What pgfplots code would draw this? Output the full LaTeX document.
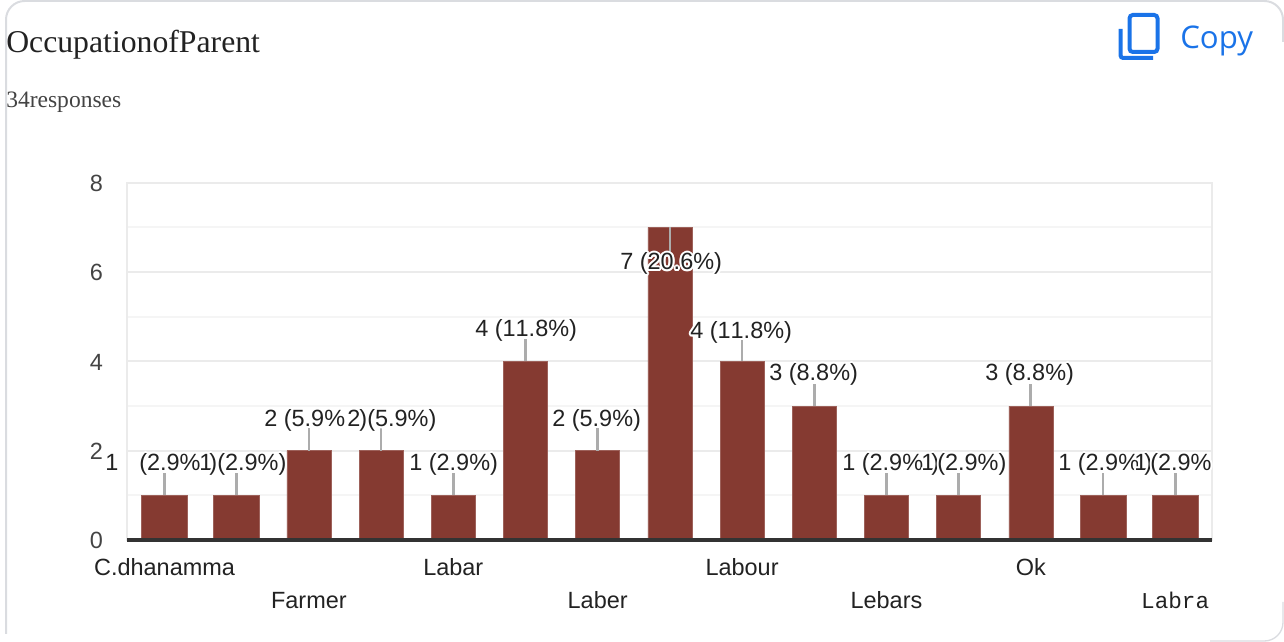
\documentclass[border=0pt]{standalone}
\usepackage{fontspec}
\usepackage{pgfplots}
\pgfplotsset{compat=1.18}
\setmainfont{Liberation Sans}
\newfontfamily\serifttl{Liberation Serif}
\newfontfamily\monolbl{Liberation Mono}
\newfontfamily\copyfont{Open Sans}
\definecolor{barcol}{HTML}{853A31}
\definecolor{gridmaj}{HTML}{EBEBEB}
\definecolor{gridmin}{HTML}{F5F5F5}
\definecolor{txt}{HTML}{222222}
\definecolor{ticktxt}{HTML}{444444}
\definecolor{blue}{HTML}{1A73E8}
\definecolor{card}{HTML}{DADCE0}
% second row of the staggered x labels
\newcommand\dn[1]{\raisebox{-25pt}{#1}}
% white halo round a label, as the chart draws it
\newcommand\halo[1]{\leavevmode\rlap{\color{white}%
  \foreach \a in {0,30,...,330}{\rlap{\hspace{\fpeval{1.5*cosd(\a)}pt}\raisebox{\fpeval{1.5*sind(\a)}pt}{#1}}}}#1}
% label fragment: left edge and vertical centre in reference pixels
\newcommand\lbl[3]{\node[anchor=base west,inner sep=0pt,text=txt,font=\fontsize{17.6}{20}\selectfont] at (#1,{642-#2-9}) {\halo{#3}};}
\begin{document}
\begin{tikzpicture}[x=0.75pt,y=0.75pt]
\path[use as bounding box] (0,0) rectangle (1284,642);
% card border
\draw[card,line width=1.5pt,rounded corners=14pt] (6,8) -- (6,641) -- (1283,641) -- (1283,600);
\draw[card,line width=1pt,rounded corners=14pt] (1210,1) -- (1283,1) -- (1283,40);
% header
\node[anchor=base west,inner sep=0pt,text=txt,font=\fontsize{23.8}{26}\serifttl] at (6,589) {OccupationofParent};
\node[anchor=base west,inner sep=0pt,text=txt!85,font=\fontsize{17.65}{20}\serifttl] at (6,534) {34responses};
\node[anchor=base west,inner sep=0pt,text=blue,font=\fontsize{23.4}{28}\copyfont] at (1180,593) {Copy};
\draw[blue,line width=3pt,rounded corners=2.5pt] (1129.5,590) rectangle (1157.5,627);
\draw[blue,line width=3pt,rounded corners=2pt] (1120.5,613) -- (1120.5,584) -- (1153,584);
\begin{axis}[
  at={(95.25pt,76.5pt)},anchor=south west,
  scale only axis,width=813.75pt,height=268pt,clip=false,
  xmin=-0.52,xmax=14.51,ymin=0,ymax=8,
  xtick={0,2,...,14},
  xticklabels={C.dhanamma,\dn{Farmer},Labar,\dn{Laber},Labour,\dn{Lebars},Ok,\dn{\monolbl\fontsize{17}{20}\selectfont Labra}},
  ytick={0,2,4,6,8},
  minor y tick num=1,
  major tick length=0pt,minor tick length=0pt,
  ymajorgrids,yminorgrids,
  major grid style={gridmaj,line width=1.5pt},
  minor grid style={gridmin,line width=1.5pt},
  axis line style={gridmaj,line width=1.5pt},
  tick style={draw=none},
  xticklabel style={font=\fontsize{17.6}{20}\selectfont,text=txt,anchor=north,text height=12pt,text depth=0pt,yshift=-11pt},
  yticklabel style={font=\fontsize{17.6}{20}\selectfont,text=ticktxt,anchor=east,xshift=-14.5pt,yshift=-0.5pt},
  /pgf/number format/assume math mode=true,
]
\addplot[ybar,bar width=33pt,bar shift=0pt,fill=barcol,draw=barcol!80!white,line width=0.4pt] coordinates {
  (2,2) (3,2) (4,1) (5,4) (6,2) (7,7) (8,4) (9,3) (10,1) (11,1) (12,3)};
\addplot[ybar,bar width=34.5pt,bar shift=0pt,fill=barcol,draw=barcol!80!white,line width=0.4pt] coordinates {
  (0,1) (1,1) (13,1) (14,1)};
% leader lines
\addplot[draw=none,mark=none,forget plot,error bars/.cd,y dir=both,y explicit,error mark=none,
  error bar style={draw=gray!65,line width=2pt}] coordinates {
  (0,1) +=(0,0.5) -=(0,0)
  (1,1) +=(0,0.5) -=(0,0)
  (2,2) +=(0,0.5) -=(0,0)
  (3,2) +=(0,0.5) -=(0,0)
  (4,1) +=(0,0.5) -=(0,0)
  (5,4) +=(0,0.5) -=(0,0)
  (6,2) +=(0,0.5) -=(0,0)
  (7,7) +=(0,0) -=(0,0.58)
  (8,4) +=(0,0.5) -=(0,0)
  (9,3) +=(0,0.5) -=(0,0)
  (10,1) +=(0,0.5) -=(0,0)
  (11,1) +=(0,0.5) -=(0,0)
  (12,3) +=(0,0.5) -=(0,0)
  (13,1) +=(0,0.5) -=(0,0)
  (14,1) +=(0,0.5) -=(0,0)};
\end{axis}
% baseline over the bars, 3 px
\draw[black!80,line width=2.4pt] (127,102) -- (1212,102);
% data labels
\lbl{105}{462}{1}
\lbl{139}{462}{(2.9\%}
\lbl{199}{462}{1}
\lbl{209}{462}{)}
\lbl{217}{462}{(2.9\%)}
\lbl{264}{418}{2 (5.9\%}
\lbl{347}{418}{2}
\lbl{359}{418}{)}
\lbl{367}{418}{(5.9\%)}
\lbl{409}{462}{1 (2.9\%)}
\lbl{475}{328}{4 (1\kern0pt 1.8\%)}
\lbl{552}{418}{2 (5.9\%)}
\lbl{620}{261}{7 (20.6\%)}
\lbl{690}{330}{4 (1\kern0pt 1.8\%)}
\lbl{769}{372}{3 (8.8\%)}
\lbl{842}{462}{1 (2.9\%}
\lbl{921}{462}{1}
\lbl{931}{462}{)}
\lbl{937}{462}{(2.9\%)}
\lbl{985}{372}{3 (8.8\%)}
\lbl{1058}{462}{1 (2.9\%}
\lbl{1134}{462}{1}
\lbl{1144}{462}{)}
\lbl{1150}{462}{(2.9\%}
\end{tikzpicture}
\end{document}
